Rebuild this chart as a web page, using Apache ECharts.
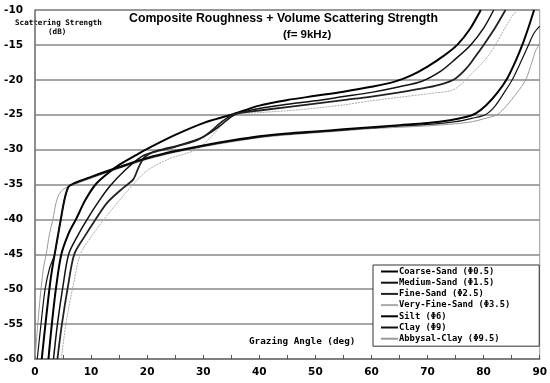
<!DOCTYPE html>
<html><head><meta charset="utf-8">
<script src="https://cdn.jsdelivr.net/npm/echarts@6/dist/echarts.min.js"></script>
<style>html,body{margin:0;padding:0;background:#fff}#c{width:550px;height:383px}</style>
</head><body><div id="c"></div>
<script>
const seriesNames = ["Coarse-Sand (\u03A60.5)","Medium-Sand (\u03A61.5)","Fine-Sand (\u03A62.5)","Very-Fine-Sand (\u03A63.5)","Silt (\u03A66)","Clay (\u03A69)","Abbysal-Clay (\u03A69.5)"];
const xTicks = [0,10,20,30,40,50,60,70,80,90];
const yTicks = [-60,-55,-50,-45,-40,-35,-30,-25,-20,-15,-10];
const coarseSand = [[2.4,-60],[3,-55],[3.8,-49.5],[4.7,-45],[6,-42],[7.3,-40],[9,-37.2],[10.8,-35],[13,-33.4],[15,-32.2],[18,-30.8],[20,-29.9],[25,-27.9],[30,-26.2],[35,-25],[40,-23.7],[45,-22.9],[50,-22.3],[55,-21.7],[60,-21.0],[64,-20.3],[67,-19.4],[70,-18.1],[73,-16.5],[75.3,-15],[77.5,-12.8],[79.5,-10]];
const mediumSand = [[3.3,-60],[4,-55],[5,-49.5],[6,-45],[7.5,-42.5],[9.3,-40],[11.3,-37.5],[13.3,-35.3],[16,-33],[19,-31],[22,-30.1],[26,-29.3],[30,-28.2],[33,-26.6],[35.6,-25],[40,-24.1],[45,-23.5],[50,-23],[55,-22.4],[60,-21.8],[65,-21.0],[69,-20.2],[72.3,-18.8],[75,-17],[77.7,-15],[80,-12.6],[81.8,-10]];
const fineSand = [[4,-60],[4.8,-55],[5.9,-49.5],[7,-45],[8.8,-42.5],[10.8,-40],[13,-37.5],[16,-35.3],[17.5,-34.3],[18.5,-32.5],[19.5,-31.1],[21,-30.4],[25,-29.6],[29,-28.6],[31,-27.6],[33.5,-25.9],[35.6,-24.9],[40,-24.4],[45,-23.9],[50,-23.4],[55,-22.9],[60,-22.4],[65,-21.8],[70,-21.1],[73,-20.5],[75,-19.8],[77,-18.3],[78.5,-16.7],[80,-15],[82,-12.6],[83.9,-10]];
const veryFineSand = [[4.7,-60],[5.5,-55],[6.8,-49.5],[8.1,-45],[10,-42.5],[12.3,-40],[14.8,-37.5],[17.5,-35],[20,-33],[24,-31.3],[28.8,-30],[31,-28.5],[33.5,-26.3],[35.6,-25],[40,-24.7],[47,-24.3],[55,-23.6],[60,-23],[65,-22.5],[70,-22],[74.4,-21.5],[76.2,-20.5],[78,-19],[79.5,-17.8],[80.9,-16.5],[82.1,-15],[83.5,-13],[85,-11],[86,-10]];
const silt = [[1.2,-60],[2,-54],[2.8,-48.5],[3.5,-45],[4.6,-40],[5.3,-37],[6,-35.3],[7,-34.8],[10,-33.9],[15,-32.5],[20,-31.2],[25,-30.2],[30,-29.4],[35,-28.7],[40,-28.1],[45,-27.7],[50,-27.4],[55,-27.1],[60,-26.8],[65,-26.5],[70,-26.2],[74,-25.8],[77,-25.3],[78.6,-24.8],[80.5,-23.6],[82.5,-21.8],[84.2,-19.8],[85.6,-17.5],[86.9,-15],[88,-12.5],[89,-10]];
const clay = [[0.4,-60],[1,-55.5],[1.8,-50],[2.6,-47],[3.5,-45],[4.6,-40],[5.3,-37],[6,-35.3],[7,-34.9],[10,-34],[15,-32.6],[20,-31.3],[25,-30.3],[30,-29.5],[35,-28.8],[40,-28.2],[45,-27.8],[50,-27.5],[55,-27.2],[60,-26.9],[65,-26.6],[70,-26.4],[75,-26],[78,-25.5],[80.3,-25],[82,-23.8],[83.7,-21.8],[85.1,-20],[86.6,-17.5],[88,-15],[89,-13.3],[90,-12.3]];
const abbysalClay = [[0,-60],[0.5,-55],[1,-50.5],[1.5,-47],[2,-45],[2.6,-42],[3.2,-40],[3.7,-37.8],[4.3,-36.4],[5,-35.7],[6,-35.3],[8,-34.7],[10,-34.1],[15,-32.7],[20,-31.4],[25,-30.4],[30,-29.6],[35,-28.9],[40,-28.3],[45,-27.9],[50,-27.6],[55,-27.3],[60,-27.0],[65,-26.8],[70,-26.6],[75,-26.3],[78,-26],[80,-25.6],[82.4,-25],[84,-23.8],[86,-21.8],[87.5,-20],[88.6,-17.5],[89.3,-15.8],[90,-14.8]];

const seriesData = [coarseSand, mediumSand, fineSand, veryFineSand, silt, clay, abbysalClay];
const styles = [
  {color:'#000', width:2, type:'solid'},
  {color:'#111', width:1.5, type:'solid'},
  {color:'#222', width:1.8, type:'solid'},
  {color:'#aaa', width:1, type:[2,1]},
  {color:'#000', width:2, type:'solid'},
  {color:'#111', width:1.2, type:'solid'},
  {color:'#999', width:1, type:'solid'}
];
const chart = echarts.init(document.getElementById('c'));
const bold = {fontFamily:'DejaVu Sans', fontWeight:'bold', color:'#000'};
chart.setOption({
  animation:false,
  grid:{left:35, right:9, top:10, bottom:24, show:true, borderColor:'#999', borderWidth:1},
  xAxis:{type:'value', min:0, max:90, interval:5,
    axisLine:{lineStyle:{color:'#777', width:1.5}},
    axisTick:{show:true, inside:true, length:4, lineStyle:{color:'#555'}},
    axisLabel:Object.assign({fontSize:10.5, margin:8, formatter:v=> xTicks.indexOf(v)>=0 ? String(v) : ''}, bold),
    splitLine:{show:false}},
  yAxis:{type:'value', min:-60, max:-10, interval:5,
    axisLine:{lineStyle:{color:'#777', width:1.5}},
    axisTick:{show:false},
    axisLabel:Object.assign({fontSize:10.5, margin:12, formatter:v=> yTicks.indexOf(v)>=0 ? String(v) : ''}, bold),
    splitLine:{show:true, lineStyle:{color:'#888', width:1.5}}},
  legend:{orient:'vertical', left:373, top:265, itemWidth:17, itemHeight:2, itemGap:2.2,
    backgroundColor:'#fff', borderColor:'#333', borderWidth:1, padding:[2,29,3,8],
    textStyle:{fontFamily:'DejaVu Sans Mono', fontWeight:'bold', fontSize:8.8, color:'#000', padding:[0,0,0,-4]},
    data:seriesNames.map(n=>({name:n, icon:'rect'}))},
  graphic:[
    {type:'text', x:283.5, y:13, style:{text:'Composite Roughness + Volume Scattering Strength', font:'bold 12.3px "Liberation Sans"', fill:'#000', textAlign:'center'}},
    {type:'text', x:283, y:29, style:{text:'(f= 9kHz)', font:'bold 11.5px "Liberation Sans"', fill:'#000'}},
    {type:'text', x:15, y:19, style:{text:'Scattering Strength', font:'bold 7.6px "DejaVu Sans Mono"', fill:'#000'}},
    {type:'text', x:48, y:28, style:{text:'(dB)', font:'bold 7.6px "DejaVu Sans Mono"', fill:'#000'}},
    {type:'text', x:249, y:337, style:{text:'Grazing Angle (deg)', font:'bold 9.3px "DejaVu Sans Mono"', fill:'#000'}}
  ],
  series: seriesData.map((d,i)=>({
    name:seriesNames[i], type:'line', data:d, smooth:0.3, symbol:'none',
    lineStyle:styles[i], itemStyle:{color:styles[i].color}, z: i===3||i===6 ? 1 : 2
  }))
});
</script></body></html>
